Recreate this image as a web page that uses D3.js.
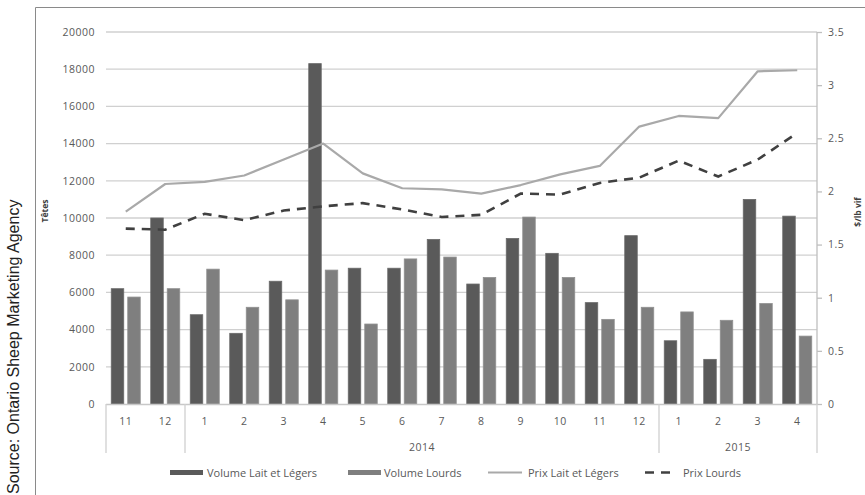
<!DOCTYPE html>
<html>
<head>
<meta charset="utf-8">
<script src="https://cdn.jsdelivr.net/npm/d3@7"></script>
<style>
  html, body { margin: 0; padding: 0; background: #fff; }
  svg { display: block; }
  .tick-label { font-family: "Open Sans", "Liberation Sans", sans-serif; font-size: 10.5px; fill: #595959; letter-spacing: 0.5px; }
  .legend-label { font-family: "Open Sans", "Liberation Sans", sans-serif; font-size: 11px; fill: #595959; }
  .axis-title { font-family: "Open Sans", "Liberation Sans", sans-serif; font-size: 8.5px; font-weight: bold; fill: #404040; }
  .source { font-family: "Liberation Sans", Arial, sans-serif; font-size: 16px; fill: #222; }
</style>
</head>
<body>
<svg id="chart" width="865" height="495"></svg>
<script>
// Monthly lamb volumes (head) and prices ($/lb live), Nov 2013 – Apr 2015
const months = ["11", "12", "1", "2", "3", "4", "5", "6", "7", "8", "9", "10", "11", "12", "1", "2", "3", "4"];
const years = [
  { label: "", from: 0, to: 2 },
  { label: "2014", from: 2, to: 14 },
  { label: "2015", from: 14, to: 18 }
];
const volumeLaitLegers = [6200, 10000, 4800, 3800, 6600, 18300, 7300, 7300, 8850, 6450, 8900, 8100, 5450, 9050, 3400, 2400, 11000, 10100];
const volumeLourds = [5750, 6200, 7250, 5200, 5600, 7200, 4300, 7800, 7900, 6800, 10050, 6800, 4550, 5200, 4950, 4500, 5400, 3650];
const prixLaitLegers = [1.81, 2.07, 2.09, 2.15, 2.30, 2.45, 2.17, 2.03, 2.02, 1.98, 2.06, 2.16, 2.24, 2.61, 2.71, 2.69, 3.13, 3.14];
const prixLourds = [1.65, 1.64, 1.79, 1.73, 1.82, 1.86, 1.89, 1.83, 1.76, 1.78, 1.98, 1.97, 2.08, 2.13, 2.29, 2.14, 2.30, 2.55];
const leftTicks = [0, 2000, 4000, 6000, 8000, 10000, 12000, 14000, 16000, 18000, 20000];
const rightTicks = [0, 0.5, 1, 1.5, 2, 2.5, 3, 3.5];

const svg = d3.select("#chart");
const plot = { left: 106, right: 817, top: 32, bottom: 404 };

const idx = d3.range(months.length);
const x = d3.scaleBand().domain(idx).range([plot.left, plot.right]).paddingInner(0).paddingOuter(0);
const xSub = d3.scaleBand().domain(["lait", "lourds"]).range([0, x.bandwidth()])
  .paddingInner(0.2424).paddingOuter(0.318);
const y = d3.scaleLinear().domain([0, 20000]).range([plot.bottom, plot.top]);
const y2 = d3.scaleLinear().domain([0, 3.5]).range([plot.bottom, plot.top]);

// Outer frame
svg.append("path")
  .attr("d", `M35.5,500 V7.5 H870`)
  .attr("fill", "none").attr("stroke", "#8a8a8a").attr("stroke-width", 1);

// Source note along the left edge
svg.append("text").attr("class", "source")
  .attr("transform", "translate(19,494) rotate(-90)")
  .text("Source: Ontario Sheep Marketing Agency");

// Horizontal gridlines
svg.append("g").selectAll("line").data(leftTicks.slice(1)).join("line")
  .attr("x1", plot.left).attr("x2", plot.right)
  .attr("y1", d => y(d)).attr("y2", d => y(d))
  .attr("stroke", "#d0d0d0").attr("stroke-width", 1.3);

// Left axis labels
const leftAxis = d3.axisLeft(y).tickValues(leftTicks).tickSize(0).tickPadding(11).tickFormat(d3.format("d"));
const gl = svg.append("g").attr("transform", `translate(${plot.left},0)`).call(leftAxis);
gl.select(".domain").remove();
gl.selectAll("text").attr("class", "tick-label").attr("font-family", null).attr("font-size", null).attr("fill", null);

// Right axis with line and outward ticks
const rightAxis = d3.axisRight(y2).tickValues(rightTicks).tickSize(5).tickPadding(6).tickFormat(d => d3.format("")(d));
const gr = svg.append("g").attr("transform", `translate(${plot.right},0)`).call(rightAxis);
gr.select(".domain").attr("stroke", "#bfbfbf").attr("stroke-width", 1.3).attr("d", `M0,${plot.top}V${plot.bottom}`);
gr.selectAll(".tick line").attr("stroke", "#bfbfbf").attr("stroke-width", 1.3);
gr.selectAll("text").attr("class", "tick-label").attr("font-family", null).attr("font-size", null).attr("fill", null);

// Bars
const bars = svg.append("g");
bars.selectAll("rect.lait").data(volumeLaitLegers).join("rect").attr("class", "lait")
  .attr("x", (d, i) => x(i) + xSub("lait"))
  .attr("width", xSub.bandwidth())
  .attr("y", d => y(d)).attr("height", d => y(0) - y(d))
  .attr("fill", "#5a5a5a").attr("stroke", "#6a6a6a").attr("stroke-width", 0.8);
bars.selectAll("rect.lourds").data(volumeLourds).join("rect").attr("class", "lourds")
  .attr("x", (d, i) => x(i) + xSub("lourds"))
  .attr("width", xSub.bandwidth())
  .attr("y", d => y(d)).attr("height", d => y(0) - y(d))
  .attr("fill", "#7f7f7f").attr("stroke", "#909090").attr("stroke-width", 0.8);

// Category axis baseline and group separators
svg.append("line").attr("x1", plot.left).attr("x2", plot.right)
  .attr("y1", plot.bottom + 0.5).attr("y2", plot.bottom + 0.5)
  .attr("stroke", "#c8c8c8").attr("stroke-width", 1.3);
const seps = [0, 2, 14, 18];
svg.append("g").selectAll("line").data(seps).join("line")
  .attr("x1", d => d === 18 ? plot.right : x(d)).attr("x2", d => d === 18 ? plot.right : x(d))
  .attr("y1", plot.bottom).attr("y2", 453)
  .attr("stroke", "#cfcfcf").attr("stroke-width", 1.3);

// Month labels
svg.append("g").selectAll("text").data(months).join("text").attr("class", "tick-label")
  .attr("x", (d, i) => x(i) + x.bandwidth() / 2).attr("y", 425)
  .attr("text-anchor", "middle").text(d => d);

// Year labels
svg.append("g").selectAll("text").data(years.filter(d => d.label)).join("text").attr("class", "tick-label")
  .attr("x", d => (x(d.from) + (d.to === 18 ? plot.right : x(d.to))) / 2).attr("y", 451)
  .attr("text-anchor", "middle").text(d => d.label);

// Price lines
const cx = i => x(i) + x.bandwidth() / 2;
const line = d3.line().x((d, i) => cx(i)).y(d => y2(d));
svg.append("path").datum(prixLaitLegers).attr("d", line)
  .attr("fill", "none").attr("stroke", "#a9a9a9").attr("stroke-width", 2.2).attr("stroke-linejoin", "round");
svg.append("path").datum(prixLourds).attr("d", line)
  .attr("fill", "none").attr("stroke", "#404040").attr("stroke-width", 2.6)
  .attr("stroke-dasharray", "9,7");

// Axis titles
svg.append("text").attr("class", "axis-title")
  .attr("transform", "translate(48,211) rotate(-90)").attr("text-anchor", "middle").text("Têtes");
svg.append("text").attr("class", "axis-title")
  .attr("transform", "translate(861,212) rotate(-90)").attr("text-anchor", "middle").text("$/lb vif");

// Legend
const legend = svg.append("g");
const items = [
  { label: "Volume Lait et Légers", type: "rect", color: "#5a5a5a", x: 170, tx: 207 },
  { label: "Volume Lourds", type: "rect", color: "#7f7f7f", x: 348, tx: 384 },
  { label: "Prix Lait et Légers", type: "line", color: "#a9a9a9", x: 488, tx: 528 },
  { label: "Prix Lourds", type: "dash", color: "#404040", x: 645, tx: 683 }
];
items.forEach(it => {
  if (it.type === "rect") {
    legend.append("rect").attr("x", it.x).attr("y", 470).attr("width", 33).attr("height", 5).attr("fill", it.color);
  } else {
    const l = legend.append("line").attr("x1", it.x).attr("x2", it.x + 34).attr("y1", 472.5).attr("y2", 472.5)
      .attr("stroke", it.color).attr("stroke-width", it.type === "dash" ? 2.6 : 2.2);
    if (it.type === "dash") l.attr("stroke-dasharray", "9,7").attr("x2", it.x + 29);
  }
  legend.append("text").attr("class", "legend-label").attr("x", it.tx).attr("y", 476.5).text(it.label);
});
</script>
</body>
</html>
